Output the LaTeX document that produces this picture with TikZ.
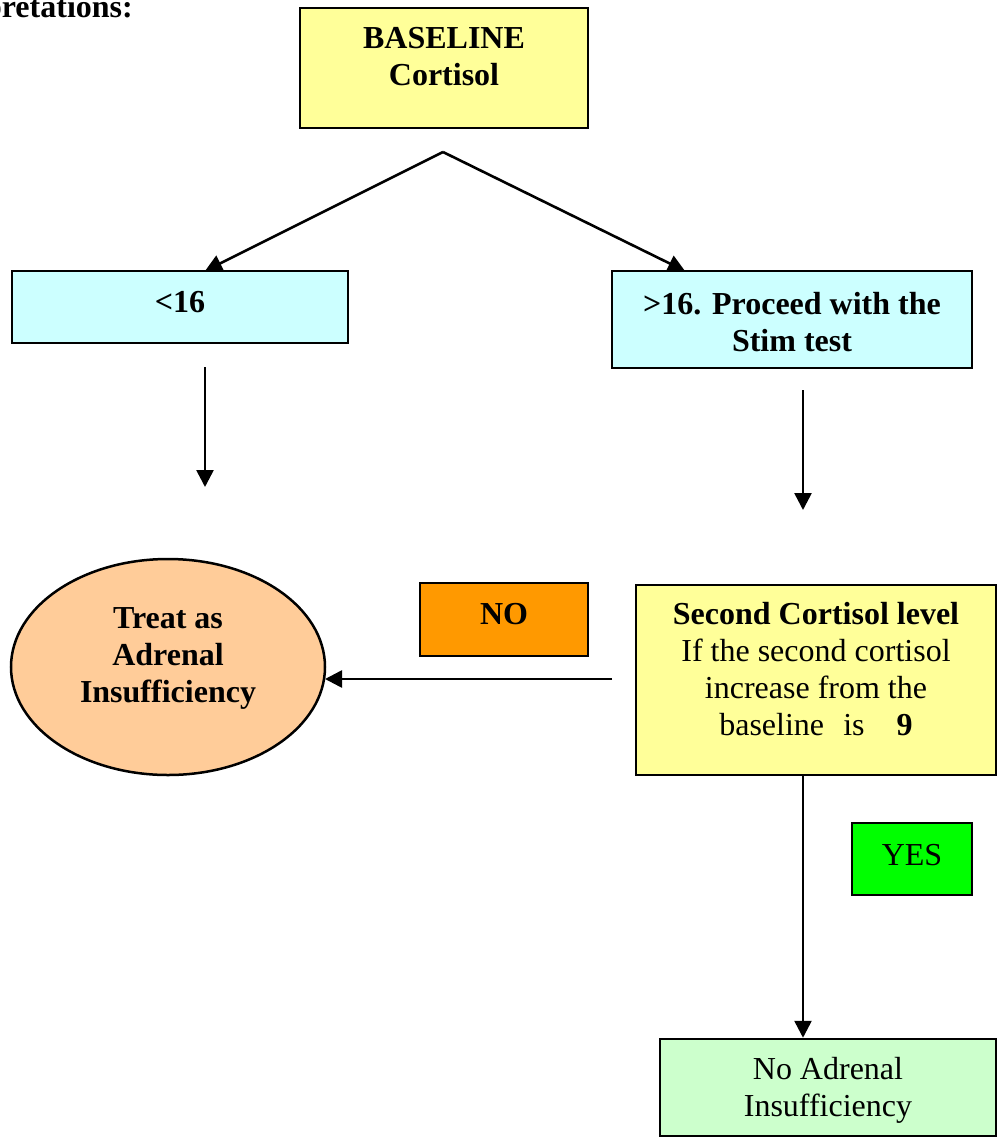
\documentclass[tikz,border=0pt]{standalone}
\usepackage{fontspec}
\setmainfont{Liberation Serif}
\usetikzlibrary{arrows.meta,shapes.geometric}
\definecolor{cyellow}{HTML}{FFFF99}
\definecolor{ccyan}{HTML}{CCFFFF}
\definecolor{cpeach}{HTML}{FFCC99}
\definecolor{corange}{HTML}{FF9900}
\definecolor{cgreen}{HTML}{00FF00}
\definecolor{clgreen}{HTML}{CCFFCC}
\tikzset{
  boxstyle/.style={draw=black, line width=2.5pt, rectangle, inner sep=0pt},
  txt/.style={font=\fontsize{32}{37}\selectfont, align=center, inner sep=0pt},
  conn/.style={line width=2.6pt, -{Triangle[length=17pt,width=17pt]}},
}
\begin{document}
\begin{tikzpicture}[x=1pt,y=-1pt]
\useasboundingbox (0,0) rectangle (997,1141);
% title (cut off at left)
\node[txt, anchor=base east] (title) at (133,17) {\textbf{Interpretations:}};
% boxes
\node[boxstyle, fill=cyellow, minimum width=288pt, minimum height=120pt] (base) at (444,68) {};
\node[txt] (baset) at (444,57) {\textbf{BASELINE}\\\textbf{Cortisol}};
\node[boxstyle, fill=ccyan, minimum width=336pt, minimum height=72pt] (lt) at (180,307) {};
\node[txt] (ltt) at (180,302) {\textbf{<16}};
\node[boxstyle, fill=ccyan, minimum width=360pt, minimum height=97pt] (gt) at (792,319.5) {};
\node[txt] (gtt) at (792,322) {\textbf{>16. Proceed with the}\\\textbf{Stim test}};
\node[ellipse, draw=black, line width=2.5pt, fill=cpeach, minimum width=314pt, minimum height=216pt, inner sep=0pt] (ell) at (168,667) {};
\node[txt] (ellt) at (168,658) {\textbf{Treat as}\\\textbf{Adrenal}\\\textbf{Insufficiency}};
\node[boxstyle, fill=corange, minimum width=168pt, minimum height=73pt] (no) at (504,619.5) {};
\node[txt] (not) at (504,614) {\textbf{NO}};
\node[boxstyle, fill=cyellow, minimum width=360pt, minimum height=190pt] (sec) at (816,680) {};
\node[txt] (sect) at (816,669) {\textbf{Second Cortisol level}\\If the second cortisol\\increase from the\\baseline\hspace{0.6em}is\hspace{1em}\textbf{9}};
\node[boxstyle, fill=cgreen, minimum width=120pt, minimum height=72pt] (yes) at (912,859) {};
\node[txt] (yest) at (912,855) {YES};
\node[boxstyle, fill=clgreen, minimum width=336pt, minimum height=97pt] (noai) at (828,1087.5) {};
\node[txt] (noait) at (828,1090) {No Adrenal\\Insufficiency};
% connector end points
\coordinate (apex) at (443,152);
\coordinate (ltin) at (205,271);
\coordinate (gtin) at (685,271);
\coordinate (a1s) at (205,367);
\coordinate (a1e) at (205,487);
\coordinate (a2s) at (803,390);
\coordinate (a2e) at (803,510);
\coordinate (a3s) at (612,679);
\coordinate (a3e) at (325,679);
\coordinate (a4s) at (803,775);
% connectors
\draw[conn] (apex) -- (ltin);
\draw[conn] (apex) -- (gtin);
\draw[conn] (a1s) -- (a1e);
\draw[conn] (a2s) -- (a2e);
\draw[conn] (a3s) -- (a3e);
\draw[conn] (a4s) -- (a4s |- noai.north);
\end{tikzpicture}
\end{document}
